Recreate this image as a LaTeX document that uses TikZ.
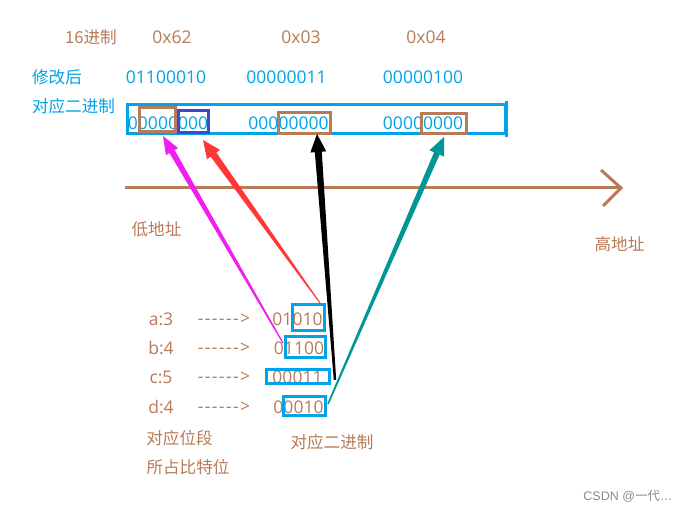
\documentclass[tikz,border=0pt]{standalone}
\usepackage{fontspec}
\setmainfont{Open Sans}
\newfontfamily\cjk{Noto Sans CJK SC}
\newfontfamily\arialish{Liberation Sans}
\usetikzlibrary{calc}
\definecolor{brownc}{RGB}{185,122,87}
\definecolor{bluec}{RGB}{0,162,232}
\definecolor{indigoc}{RGB}{63,72,204}
\definecolor{magc}{RGB}{240,30,240}
\definecolor{redc}{RGB}{255,55,55}
\definecolor{tealc}{RGB}{0,150,150}
\definecolor{greyc}{RGB}{140,140,140}
% #1 prefix, #2 start, #3 tip, #4 colour, #5 start half-width, #6 shaft half-width, #7 head half-width
\newcommand{\taperarrow}[7]{%
  \coordinate (#1base) at ($(#3)!18pt!(#2)$);
  \fill[#4] ($(#2)!#5!90:(#3)$) -- ($(#1base)!#6!90:(#3)$) -- ($(#1base)!#7!90:(#3)$) -- (#3)
    -- ($(#1base)!#7!-90:(#3)$) -- ($(#1base)!#6!-90:(#3)$) -- ($(#2)!#5!-90:(#3)$) -- cycle;}
\begin{document}
\begin{tikzpicture}[x=1pt,y=-1pt,
  lat/.style={inner sep=0pt, font=\fontsize{17.5}{20}\selectfont},
  zh/.style={inner sep=0pt, font=\cjk\fontsize{16.6}{20}\selectfont},
  box/.style={draw, line width=3pt, inner sep=0pt}]
\useasboundingbox[fill=white] (0,0) rectangle (693,510);

% header rows
\node[zh, text=brownc] (hex) at (91,37) {16进制};
\node[lat, text=brownc] (h1) at (172,37) {0x62};
\node[lat, text=brownc] (h2) at (301,37) {0x03};
\node[lat, text=brownc] (h3) at (426,37) {0x04};

\node[zh, text=bluec] (mod) at (57,77) {修改后};
\node[lat, text=bluec] (m1) at (166,77) {01100010};
\node[lat, text=bluec] (m2) at (286.5,77) {00000011};
\node[lat, text=bluec] (m3) at (423,77) {00000100};

\node[zh, text=bluec] (bin) at (73.5,106) {对应二进制};

% big box and contents
\node[box, draw=bluec, minimum width=378pt, minimum height=29pt] (big) at (316.5,119) {};
\draw[bluec, line width=3pt] (506.5,101.5) -- (506.5,137);
\node[lat, text=bluec] (b1) at (168,123.5) {00000000};
\node[lat, text=bluec] (b2) at (288.5,123.5) {00000000};
\node[lat, text=bluec] (b3) at (423,123.5) {00000000};

\node[box, draw=brownc, minimum width=36pt, minimum height=24pt] (s1) at (157.5,119.5) {};
\node[box, draw=indigoc, minimum width=30pt, minimum height=22pt] (s2) at (193.5,121.5) {};
\node[box, draw=brownc, minimum width=52pt, minimum height=21pt] (s3) at (304.5,123) {};
\node[box, draw=brownc, minimum width=45pt, minimum height=20pt] (s4) at (444,123.5) {};

% address axis
\coordinate (axL) at (125,188);
\coordinate (axR) at (621,188);
\coordinate (chU) at (601,170);
\coordinate (chD) at (603,206);
\draw[brownc, line width=3pt] (axL) -- (axR);
\draw[brownc, line width=3pt, line join=miter] (chU) -- (axR) -- (chD);
\node[zh, text=brownc] (lo) at (156.5,229) {低地址};
\node[zh, text=brownc] (hi) at (619.5,244) {高地址};

% bit fields
\node[lat, text=brownc] (fa) at (161,319) {a:3};
\node[lat, text=brownc] (fb) at (161,348) {b:4};
\node[lat, text=brownc] (fc) at (161,377) {c:5};
\node[lat, text=brownc] (fd) at (161,407) {d:4};
\foreach \yy/\nm in {319/da,348/db,377/dc,407/dd}
  \node[lat, text=brownc] (\nm) at (224,\yy) {\addfontfeature{LetterSpace=8}-{}-{}-{}-{}-{}-{}>};
\node[lat, text=brownc] (va) at (297.5,319) {01010};
\node[lat, text=brownc] (vb) at (299,348) {01100};
\node[lat, text=brownc] (vc) at (297.5,377) {00011};
\node[lat, text=brownc] (vd) at (298.5,407) {00010};

\node[box, draw=bluec, minimum width=32pt, minimum height=26pt] (ba) at (308.5,317.5) {};
\node[box, draw=bluec, minimum width=40pt, minimum height=21pt] (bb) at (305.5,347) {};
\node[box, draw=bluec, minimum width=63pt, minimum height=14pt] (bc) at (298,376.5) {};
\node[box, draw=bluec, minimum width=42pt, minimum height=19pt] (bd) at (304.5,406) {};

\node[zh, text=brownc] (t1) at (179.5,438) {对应位段};
\node[zh, text=brownc] (t2) at (188,467) {所占比特位};
\node[zh, text=brownc] (t3) at (332,442) {对应二进制};

% arrows
\coordinate (pM) at (283,343);  \coordinate (qM) at (163,136);
\coordinate (pR) at (320,303);  \coordinate (qR) at (203,140);
\coordinate (pK) at (335,380);  \coordinate (qK) at (317,134);
\coordinate (pT) at (328,404);  \coordinate (qT) at (444,137);
\taperarrow{M}{pM}{qM}{magc}{0.6pt}{3pt}{7pt}
\taperarrow{R}{pR}{qR}{redc}{0.5pt}{3.5pt}{8pt}
\taperarrow{K}{pK}{qK}{black}{1.2pt}{3.5pt}{8pt}
\taperarrow{T}{pT}{qT}{tealc}{0.8pt}{3pt}{8pt}

\node[inner sep=0pt, text=greyc, font=\arialish\fontsize{12.5}{14}\selectfont] (wm) at (628,496) {CSDN @{\cjk 一代}…};
\end{tikzpicture}
\end{document}
